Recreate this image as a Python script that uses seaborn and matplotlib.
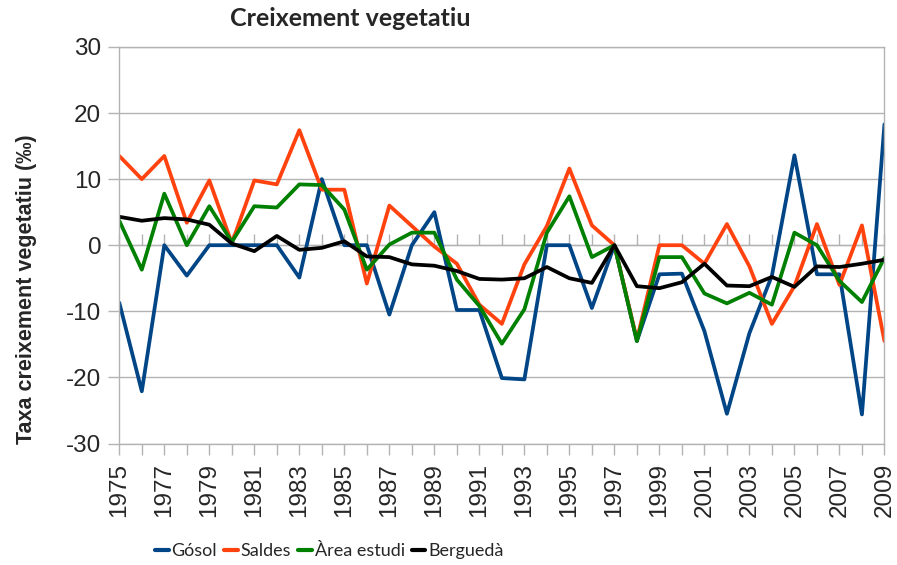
import numpy as np
import pandas as pd
import matplotlib
matplotlib.use("Agg")
import matplotlib.pyplot as plt
import seaborn as sns

years = list(range(1975, 2010))
gosol = [-8.7, -22.1, 0, -4.6, 0, 0, 0, 0, -4.9, 10.0, 0, 0,
         -10.5, 0, 5.0, -9.8, -9.8, -20.1, -20.3, 0, 0, -9.5, 0, -14.5,
         -4.4, -4.3, -13.0, -25.5, -13.3, -4.6, 13.6, -4.4, -4.4, -25.6, 18.3]
saldes = [13.5, 10.0, 13.5, 3.4, 9.8, 0.3, 9.8, 9.2, 17.4, 8.4, 8.4, -5.8,
          6.0, 2.9, -0.2, -2.8, -9.0, -11.9, -2.9, 2.9, 11.6, 3.0, 0, -14.3,
          0, 0, -2.8, 3.2, -3.2, -11.9, -6.2, 3.2, -6.0, 3.0, -14.5]
area = [3.7, -3.7, 7.8, 0, 5.9, 0.5, 5.9, 5.7, 9.2, 9.1, 5.4, -3.7,
        0.1, 1.9, 1.9, -5.2, -9.2, -14.9, -9.7, 1.9, 7.4, -1.8, 0, -14.5,
        -1.8, -1.8, -7.3, -8.8, -7.2, -9.0, 1.9, 0, -5.4, -8.6, -1.9]
bergueda = [4.3, 3.7, 4.1, 3.9, 3.1, 0.25, -0.9, 1.4, -0.7, -0.4, 0.6, -1.7,
            -1.8, -2.9, -3.1, -3.9, -5.1, -5.2, -5.0, -3.3, -5.0, -5.7, 0, -6.2,
            -6.5, -5.6, -2.8, -6.1, -6.2, -4.8, -6.3, -3.2, -3.3, -2.8, -2.2]
series_names = ["Gósol", "Saldes", "Àrea estudi", "Berguedà"]
colors = ["#004586", "#ff420e", "#008000", "#000000"]
title = "Creixement vegetatiu"
ylabel = "Taxa creixement vegetatiu (‰)"

df = pd.DataFrame({
    "year": years * 4,
    "value": gosol + saldes + area + bergueda,
    "series": sum([[n] * len(years) for n in series_names], []),
})

sns.set_style("white")
plt.rcParams["font.family"] = ["Liberation Sans", "DejaVu Sans"]
plt.rcParams["axes.unicode_minus"] = False

fig = plt.figure(figsize=(8.97, 5.65), dpi=100)
ax = fig.add_axes([0.133, 0.215, 0.853, 0.702])

sns.lineplot(data=df, x="year", y="value", hue="series", hue_order=series_names,
             palette=dict(zip(series_names, colors)), linewidth=2.7, ax=ax,
             legend=False, sort=False)

grid_c = "#b3b3b3"
ax.set_xlim(1975, 2009)
ax.set_ylim(-30, 30)
ax.set_yticks(np.arange(-30, 31, 10))
ax.set_xticks(years)
ax.set_xticklabels([str(y) if (y - 1975) % 2 == 0 else "" for y in years],
                   rotation=90, fontsize=17.5)
ax.tick_params(axis="y", labelsize=17.5, length=8, width=1, color=grid_c,
               direction="out", pad=5, left=True)
ax.tick_params(axis="x", length=8, width=1, color=grid_c, direction="out",
               pad=6, bottom=True)
ax.yaxis.grid(True, color=grid_c, linewidth=1)
ax.xaxis.grid(False)
for s in ax.spines.values():
    s.set_color(grid_c)
    s.set_linewidth(1)
    s.set_visible(True)
ax.set_axisbelow(True)

# axis crossing at zero with tick marks
sec = ax.secondary_xaxis(0.5)
sec.set_xticks(years)
sec.set_xticklabels([])
sec.tick_params(axis="x", length=8, width=1, color=grid_c, direction="out")
sec.spines["bottom"].set_color(grid_c)
sec.spines["bottom"].set_linewidth(1)

ax.set_xlabel("")
ax.set_ylabel(ylabel, fontsize=15.5, fontweight="bold")
ax.yaxis.set_label_coords(-0.108, 0.39)

fig.text(0.39, 0.968, title, ha="center", va="center", fontsize=18,
         fontweight="bold", family=["Lato", "DejaVu Sans"])

handles = [plt.Line2D([], [], color=c, linewidth=3) for c in colors]
fig.legend(handles, series_names, loc="center left", bbox_to_anchor=(0.173, 0.024),
           ncol=4, frameon=False, handlelength=0.75, handletextpad=0.15,
           columnspacing=0.4, borderpad=0, borderaxespad=0,
           prop={"family": ["Lato", "DejaVu Sans"], "size": 13})

fig.savefig("out.png", dpi=100)
